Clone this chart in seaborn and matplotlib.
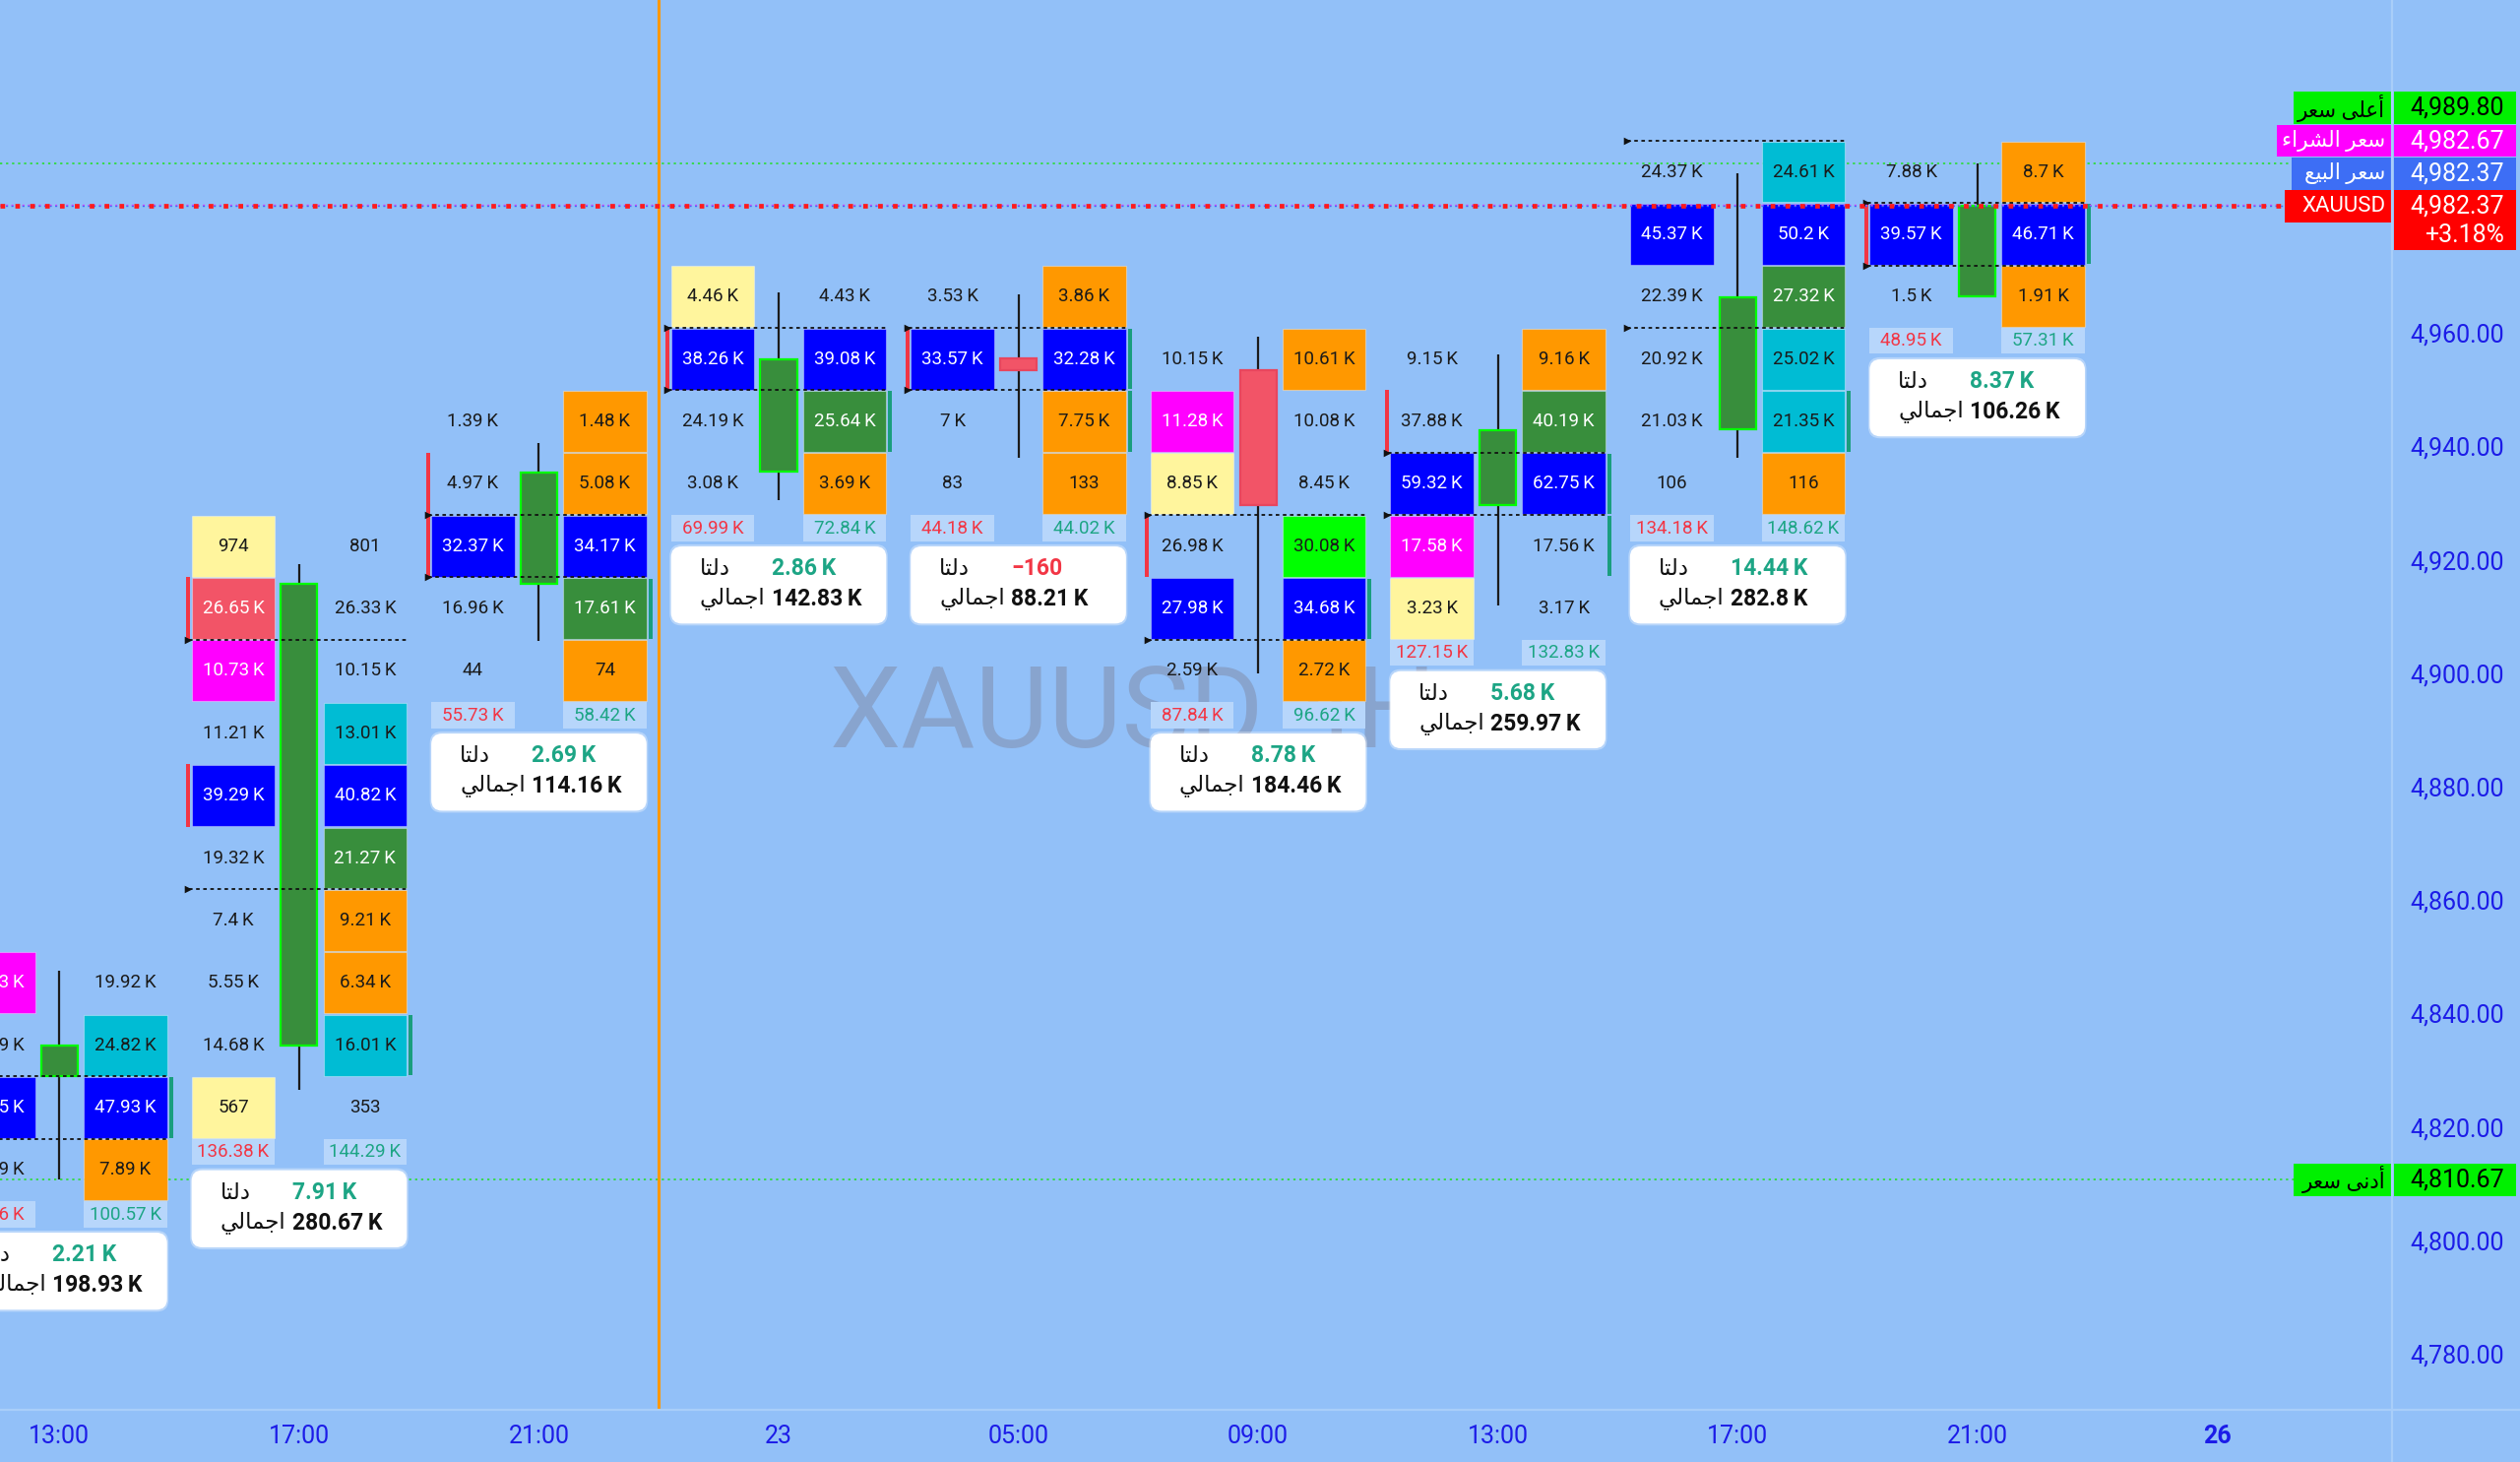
import matplotlib
matplotlib.use("Agg")
import matplotlib.pyplot as plt
import matplotlib.transforms as mtransforms
from matplotlib.lines import Line2D
from matplotlib.patches import Rectangle, FancyBboxPatch
import seaborn as sns
import pandas as pd

# 4h candles, x axis labels (last label is the next, still empty bar)
time_labels = ["13:00", "17:00", "21:00", "23", "05:00", "09:00", "13:00", "17:00", "21:00", "26"]

# OHLC
opens = [4829.0, 4834.4, 4915.8, 4935.6, 4955.5, 4953.5, 4929.7, 4943.0, 4966.4]
highs = [4847.5, 4919.2, 4940.6, 4967.1, 4966.8, 4959.4, 4956.2, 4988.1, 4989.8]
lows = [4810.67, 4826.5, 4905.6, 4930.5, 4937.9, 4899.9, 4911.9, 4937.9, 4966.4]
closes = [4834.4, 4915.8, 4935.3, 4955.3, 4953.5, 4929.7, 4942.9, 4966.2, 4982.37]

# footprint price levels: level k sits at level_base + k * level_step
level_base = 4823.4
level_step = 11.0
top_level = [2, 9, 11, 13, 13, 12, 12, 15, 15]

# volume per level, top to bottom (sell = left column, buy = right column)
sell_vol = [
    ["17.53K", "21.79K", "45.25K", "13.79K"],
    ["974", "26.65K", "10.73K", "11.21K", "39.29K", "19.32K", "7.4K", "5.55K", "14.68K", "567"],
    ["1.39K", "4.97K", "32.37K", "16.96K", "44"],
    ["4.46K", "38.26K", "24.19K", "3.08K"],
    ["3.53K", "33.57K", "7K", "83"],
    ["10.15K", "11.28K", "8.85K", "26.98K", "27.98K", "2.59K"],
    ["9.15K", "37.88K", "59.32K", "17.58K", "3.23K"],
    ["24.37K", "45.37K", "22.39K", "20.92K", "21.03K", "106"],
    ["7.88K", "39.57K", "1.5K"],
]
buy_vol = [
    ["19.92K", "24.82K", "47.93K", "7.89K"],
    ["801", "26.33K", "10.15K", "13.01K", "40.82K", "21.27K", "9.21K", "6.34K", "16.01K", "353"],
    ["1.48K", "5.08K", "34.17K", "17.61K", "74"],
    ["4.43K", "39.08K", "25.64K", "3.69K"],
    ["3.86K", "32.28K", "7.75K", "133"],
    ["10.61K", "10.08K", "8.45K", "30.08K", "34.68K", "2.72K"],
    ["9.16K", "40.19K", "62.75K", "17.56K", "3.17K"],
    ["24.61K", "50.2K", "27.32K", "25.02K", "21.35K", "116"],
    ["8.7K", "46.71K", "1.91K"],
]
# cell highlight codes per level ('.' = no highlight)
sell_tag = ["M.B.", "YRM.B....Y", "..B..", "YB..", ".B..", ".MY.B.", "..BMY", ".B....", ".B."]
buy_tag = [".CBO", "...CBGOOC.", "OOBGO", ".BGO", "OBOO", "O..LBO", "OGB..", "CBGCCO", "OBO"]

sell_total = ["98.36K", "136.38K", "55.73K", "69.99K", "44.18K", "87.84K", "127.15K", "134.18K", "48.95K"]
buy_total = ["100.57K", "144.29K", "58.42K", "72.84K", "44.02K", "96.62K", "132.83K", "148.62K", "57.31K"]
delta = ["2.21K", "7.91K", "2.69K", "2.86K", "\u2212160", "8.78K", "5.68K", "14.44K", "8.37K"]
volume = ["198.93K", "280.67K", "114.16K", "142.83K", "88.21K", "184.46K", "259.97K", "282.8K", "106.26K"]

# value area (top level, bottom level) and imbalance levels
va_top = [0, 7, 9, 12, 12, 9, 10, 15, 14]
va_bot = [0, 4, 9, 12, 12, 8, 10, 13, 14]
sell_imb = [[], [8, 5], [10, 9], [12], [12], [9], [11], [], [14]]
buy_imb = [[0], [1], [8], [11], [12, 11], [8], [10, 9], [11], [14]]

# price lines
high_price = 4989.80
ask_price = 4982.67
bid_price = 4982.37
last_price = 4982.37
low_price = 4810.67
change_pct = "+3.18%"
price_ticks = list(range(4780, 4961, 20))

# Arabic labels, written in presentation forms (visual order) so they render joined
lbl_delta = "\uFE8E\uFE98\uFEDF\uFEA9"                       # دلتا
lbl_total = "\uFEF2\uFEDF\uFE8E\uFEE4\uFE9F\uFE8D"           # اجمالي
lbl_high = "\uFEAE\uFECC\uFEB3 \uFEF0\uFEE0\uFECB\uFE83"     # أعلى سعر
lbl_ask = "\uFE80\uFE8D\uFEAE\uFEB8\uFEDF\uFE8D \uFEAE\uFECC\uFEB3"  # سعر الشراء
lbl_bid = "\uFECA\uFEF4\uFE92\uFEDF\uFE8D \uFEAE\uFECC\uFEB3"        # سعر البيع
lbl_low = "\uFEAE\uFECC\uFEB3 \uFEF0\uFEE7\uFEA9\uFE83"      # أدنى سعر

sns.set_theme(style="white")
plt.rcParams["font.family"] = ["Roboto", "DejaVu Sans"]

BG = "#92C0F8"
AXIS_BLUE = "#1C1CE8"
TEAL = "#1DA585"
RED = "#F23645"
cell_fill = {"B": "#0000FF", "M": "#FF00FF", "Y": "#FFF59D", "R": "#F25467",
             "C": "#00BCD4", "G": "#388E3C", "L": "#00FF00", "O": "#FF9800"}
white_text = set("BMRG")


def k_fmt(s):
    return s.replace("K", "\u2009K")


fig = plt.figure(figsize=(25.6, 14.85), dpi=100, facecolor=BG)
ax = fig.add_axes([0, 53 / 1485, 2430 / 2560, 1432 / 1485])
ax.set_facecolor(BG)
ax.set_xlim(-0.248, 9.73)
ax.set_ylim(4770.1, 5018.7)

# watermark
ax.text(0.347, 0.4698, "XAUUSD 4H", transform=ax.transAxes, fontsize=83,
        color="#88A4CE", ha="left", va="baseline", zorder=0.5)

# footprint cells as a tidy table
rows = []
for i in range(len(opens)):
    for j in range(len(sell_vol[i])):
        lvl = top_level[i] - j
        rows.append(dict(bar=i, level=lvl, side="sell", value=sell_vol[i][j], tag=sell_tag[i][j]))
        rows.append(dict(bar=i, level=lvl, side="buy", value=buy_vol[i][j], tag=buy_tag[i][j]))
cells = pd.DataFrame(rows)
cells["price"] = level_base + level_step * cells["level"]
cells["x"] = cells["bar"] + cells["side"].map({"sell": -0.275, "buy": 0.275})

for _, c in cells.iterrows():
    if c["tag"] != ".":
        ax.bar(c["x"], level_step - 0.25, bottom=c["price"] - level_step / 2 + 0.125, width=0.348,
               color=cell_fill[c["tag"]], edgecolor=(1, 1, 1, 0.35), linewidth=0.8, zorder=2)
    tc = "white" if c["tag"] in white_text else "#1A1A1A"
    ax.text(c["x"], c["price"], k_fmt(c["value"]), ha="center", va="center",
            fontsize=13.5, color=tc, zorder=2.5, clip_on=True)

# imbalance side markers
for i in range(len(opens)):
    for lvl in sell_imb[i]:
        p = level_base + level_step * lvl
        ax.add_patch(Rectangle((i - 0.4716, p - level_step / 2), 0.0166, level_step,
                               color=RED, lw=0, zorder=2))
    for lvl in buy_imb[i]:
        p = level_base + level_step * lvl
        ax.add_patch(Rectangle((i + 0.457, p - level_step / 2 + 0.2), 0.0166, level_step - 0.4,
                               color="#1A9E7E", lw=0, zorder=2))

# value area dotted lines with little arrows
tri = []
for i in range(len(opens)):
    for y in (level_base + level_step * va_top[i] + level_step / 2,
              level_base + level_step * va_bot[i] - level_step / 2):
        ax.plot([i - 0.46, i + 0.449], [y, y], color="#111111", lw=1.3,
                linestyle=(0, (2, 2)), zorder=5)
        tri.append(dict(x=i - 0.462, y=y))
sns.scatterplot(data=pd.DataFrame(tri), x="x", y="y", marker=">", s=30, color="#111111",
                linewidth=0, ax=ax, zorder=5, legend=False)

# candles
for i in range(len(opens)):
    up = closes[i] >= opens[i]
    ax.vlines(i, lows[i], highs[i], color="#1B1B1B", lw=1.6, zorder=3)
    ax.bar(i, abs(closes[i] - opens[i]), bottom=min(opens[i], closes[i]), width=0.152,
           color="#388E3C" if up else "#F25467", edgecolor="#00FF00" if up else "#E8465E",
           linewidth=1.6, zorder=4)

# totals row and delta box under each bar
for i in range(len(opens)):
    pb = level_base + level_step * (top_level[i] - len(sell_vol[i]) + 1)
    for side, txt, col in ((-0.275, sell_total[i], RED), (0.275, buy_total[i], TEAL)):
        ax.add_patch(Rectangle((i + side - 0.174, pb - 10.1), 0.348, 4.55,
                               color="#B7D6FB", lw=0, zorder=2))
        ax.text(i + side, pb - 7.85, k_fmt(txt), ha="center", va="center",
                fontsize=13.5, color=col, zorder=2.5, clip_on=True)
    ax.add_patch(FancyBboxPatch((i - 0.455, pb - 25.0), 0.91, 14.3,
                                boxstyle="round,pad=0,rounding_size=0.05", mutation_aspect=42.3,
                                fc=(1, 1, 1, 0.35), ec="none", zorder=5.8))
    ax.add_patch(FancyBboxPatch((i - 0.449, pb - 24.65), 0.898, 13.6,
                                boxstyle="round,pad=0,rounding_size=0.045", mutation_aspect=42.3,
                                fc="white", ec="none", zorder=6))
    dcol = RED if delta[i].startswith("\u2212") else TEAL
    ax.text(i - 0.33, pb - 15.0, lbl_delta, ha="left", va="center", fontsize=16.5,
            color="#111111", zorder=7, clip_on=True)
    ax.text(i - 0.03, pb - 15.0, k_fmt(delta[i]), ha="left", va="center", fontsize=16.5,
            fontweight="bold", color=dcol, zorder=7, clip_on=True)
    ax.text(i - 0.33, pb - 20.4, lbl_total, ha="left", va="center", fontsize=16.5,
            color="#111111", zorder=7, clip_on=True)
    ax.text(i - 0.03, pb - 20.4, k_fmt(volume[i]), ha="left", va="center", fontsize=16.5,
            fontweight="bold", color="#111111", zorder=7, clip_on=True)

# session break
ax.axvline(2.5, color="#FF9800", lw=2.2, zorder=3)

# price lines
blend = mtransforms.blended_transform_factory(ax.transAxes, ax.transData)
ax.plot([0, 0.957], [high_price, high_price], transform=blend, color="#1FE01F", lw=1.1,
        linestyle=(0, (1.5, 2.5)), zorder=1.5)
ax.plot([0, 0.959], [low_price, low_price], transform=blend, color="#1FE01F", lw=1.1,
        linestyle=(0, (1.5, 2.5)), zorder=1.5)
ax.plot([0, 0.952], [ask_price, ask_price], transform=blend, color="#E040FB", lw=1.0,
        linestyle=(0, (1.5, 2.5)), zorder=7.5)
ax.plot([0, 0.955], [bid_price, bid_price], transform=blend, color="#3D6EF5", lw=1.0,
        linestyle=(0, (1.5, 2.5)), zorder=7.5)
ax.plot([0, 0.955], [last_price, last_price], transform=blend, color="#FF1A1A", lw=3.4,
        linestyle=(0, (1, 2.2)), zorder=8)

# price tags on the scale
slot = 5.75
tags = [
    (lbl_high, high_price, "#00F000", "black", 0.959, last_price + 3 * slot),
    (lbl_ask, ask_price, "#FF00FF", "white", 0.952, last_price + 2 * slot),
    (lbl_bid, bid_price, "#3D6EF5", "white", 0.958, last_price + slot),
    ("XAUUSD", last_price, "#FF0000", "white", 0.955, last_price),
    (lbl_low, low_price, "#00F000", "black", 0.959, low_price),
]
for name, val, fc, tc, x0, yc in tags:
    ax.add_patch(Rectangle((x0, yc - 2.85), 0.9995 - x0, 5.7, transform=blend, fc=fc, ec="none",
                           clip_on=False, zorder=9))
    ax.text(0.9973, yc, name, transform=blend, ha="right", va="center",
            fontsize=16 if name == "XAUUSD" else 15.5,
            color=tc, clip_on=False, zorder=10)
    if name == "XAUUSD":
        ax.add_patch(Rectangle((1.0007, yc - 7.75), 0.051, 10.6, transform=blend, fc=fc, ec="none",
                               clip_on=False, zorder=9))
        ax.text(1.047, yc - 5.1, change_pct, transform=blend, ha="right", va="center",
                fontsize=18, color=tc, clip_on=False, zorder=10)
    else:
        ax.add_patch(Rectangle((1.0007, yc - 2.85), 0.051, 5.7, transform=blend, fc=fc, ec="none",
                               clip_on=False, zorder=9))
    ax.text(1.047, yc, f"{val:,.2f}", transform=blend, ha="right", va="center", fontsize=18,
            color=tc, clip_on=False, zorder=10)

# axes
ax.yaxis.tick_right()
ax.set_yticks(price_ticks)
ax.set_yticklabels([f"{v:,.2f}" for v in price_ticks])
ax.set_xticks(range(len(time_labels)))
ax.set_xticklabels(time_labels)
ax.get_xticklabels()[-1].set_fontweight("bold")
ax.tick_params(axis="y", length=0, pad=13, labelsize=18, labelcolor=AXIS_BLUE)
ax.tick_params(axis="x", length=0, pad=11, labelsize=18, labelcolor=AXIS_BLUE)
ax.set_xlabel("")
ax.set_ylabel("")
ax.grid(False)
for s in ax.spines.values():
    s.set_visible(False)

fig.add_artist(Line2D([0, 1], [53 / 1485, 53 / 1485], transform=fig.transFigure,
                      color="#A9CEF9", lw=1.6))
fig.add_artist(Line2D([2430 / 2560, 2430 / 2560], [0, 1], transform=fig.transFigure,
                      color="#A9CEF9", lw=1.6))

plt.savefig("out.png", dpi=100, facecolor=BG)
